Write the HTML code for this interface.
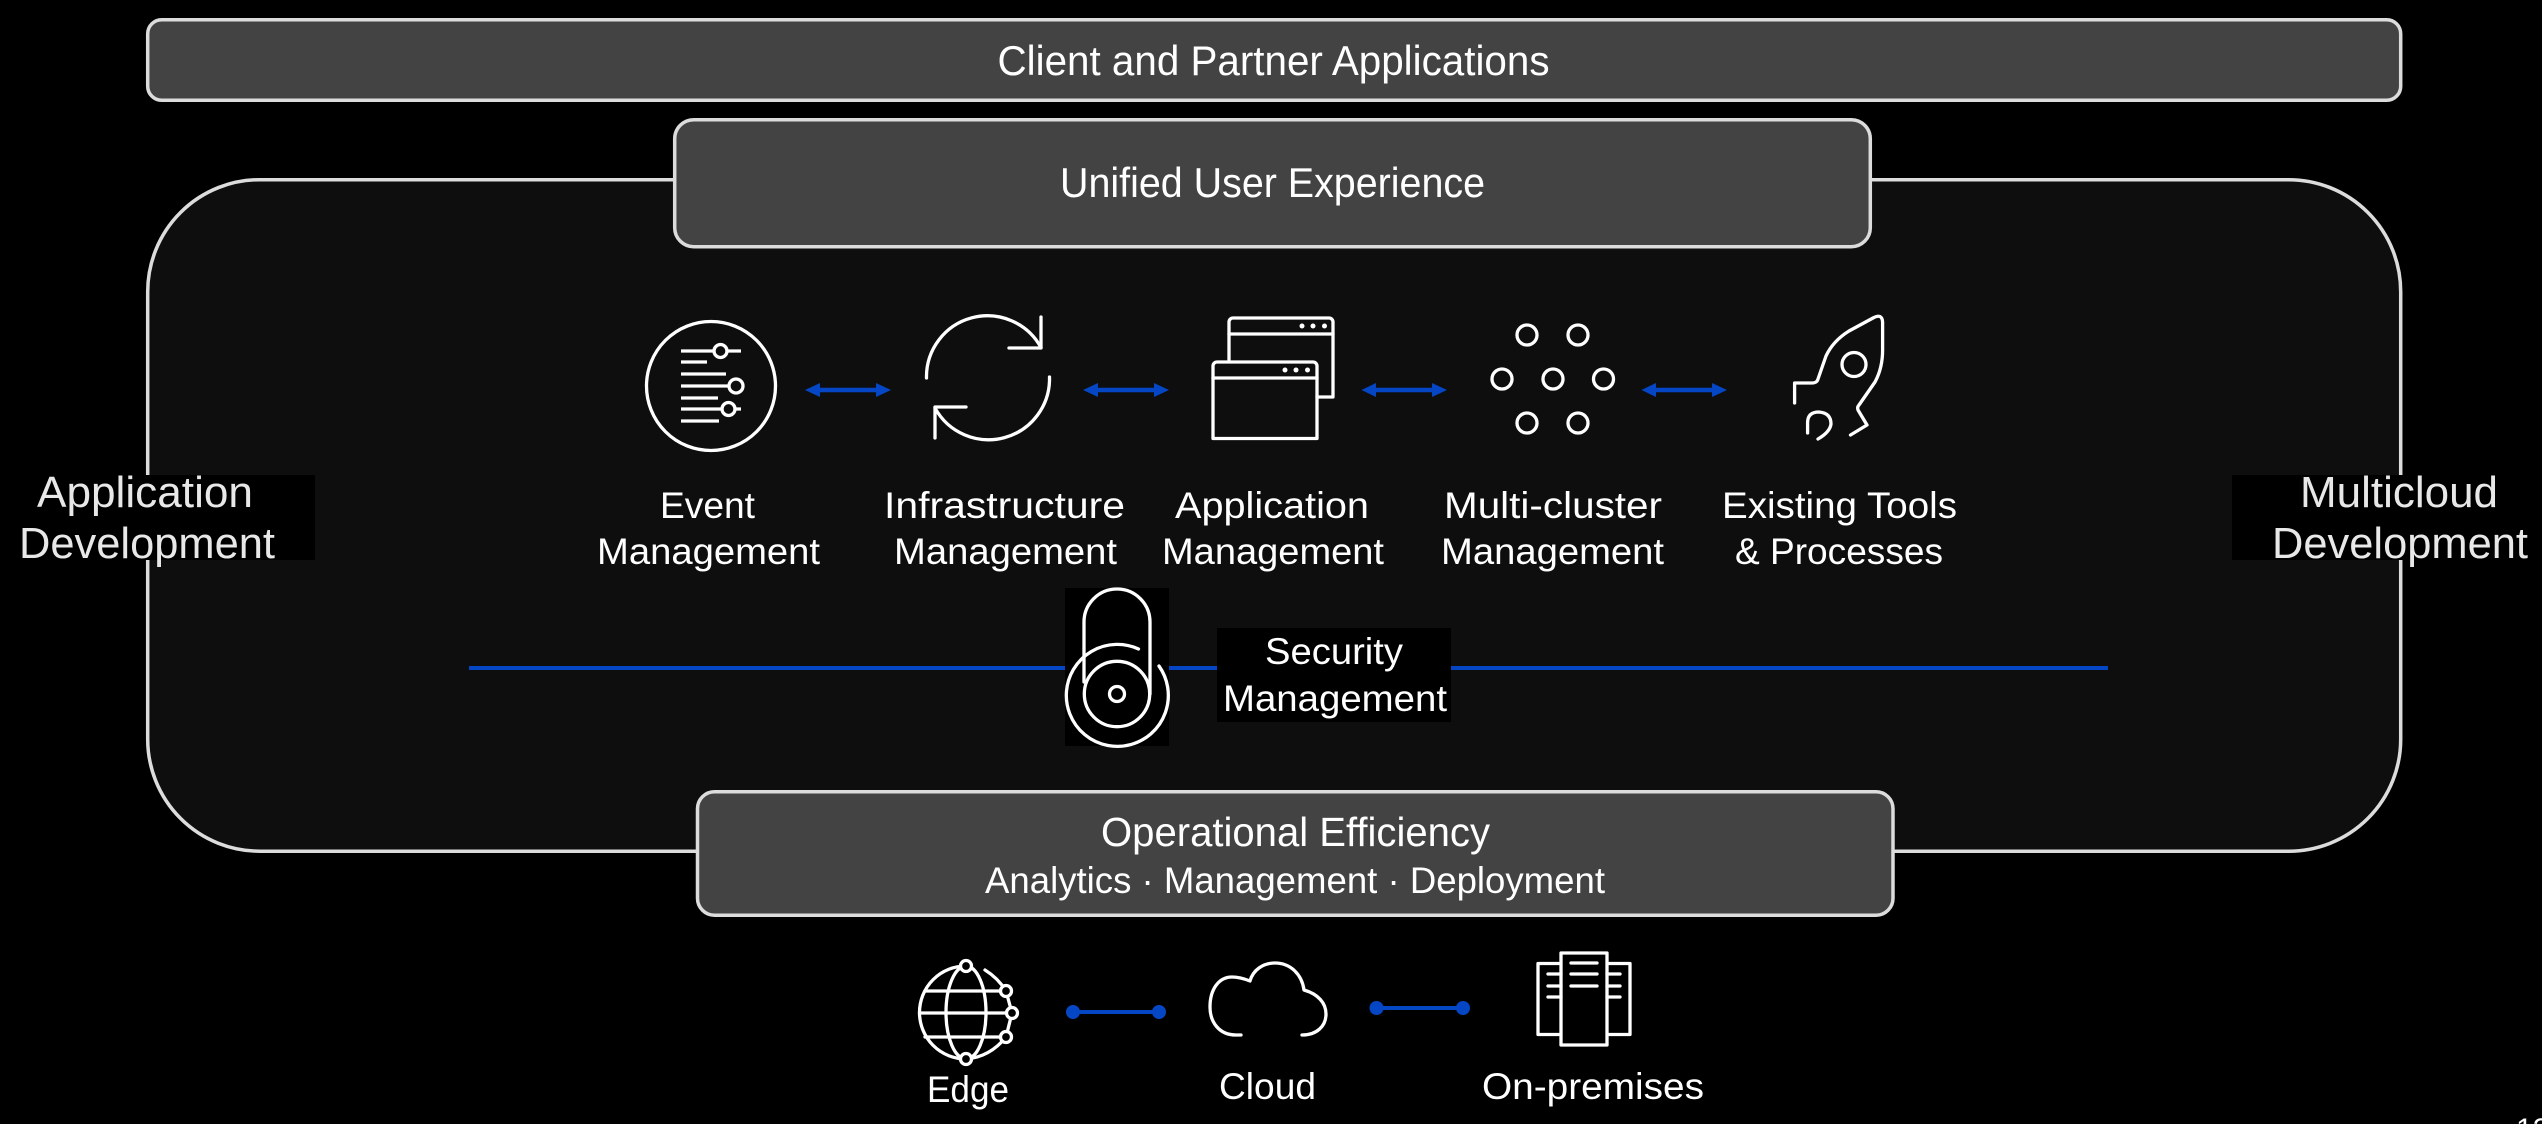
<!DOCTYPE html>
<html>
<head>
<meta charset="utf-8">
<style>
html,body{margin:0;padding:0;background:#000;width:2542px;height:1124px;overflow:hidden}
svg{display:block}
text{font-family:"Liberation Sans",sans-serif;fill:#fff;font-size:37px}
.ic{fill:none;stroke:#fff;stroke-width:3.3;stroke-linecap:round;stroke-linejoin:round}
.bl{stroke:#0546c4;stroke-width:4;fill:none}
.ar{stroke:#0546c4;stroke-width:4.5;fill:none}
.bf{fill:#0546c4;stroke:none}
.box{fill:#434343;stroke:#dcdcdc;stroke-width:3.5}
.side{font-size:44px;fill:#e8e8e8}
</style>
</head>
<body>
<svg width="2542" height="1124" viewBox="0 0 2542 1124" xmlns="http://www.w3.org/2000/svg">
<rect width="2542" height="1124" fill="#000"/>

<!-- main panel -->
<rect x="147.7" y="179.7" width="2253" height="671.500" rx="112" ry="112" fill="#0e0e0e" stroke="#dcdcdc" stroke-width="3.5"/>

<!-- bars -->
<rect class="box" x="147.7" y="19.7" width="2253" height="80.5" rx="14"/>
<rect class="box" x="674.7" y="119.7" width="1195.6" height="127" rx="19"/>
<rect class="box" x="697.5" y="791.7" width="1195.500" height="123.5" rx="17"/>

<text x="997.5" y="75" style="font-size:42px" textLength="552" lengthAdjust="spacingAndGlyphs">Client and Partner Applications</text>
<text x="1060" y="197" style="font-size:42px" textLength="425" lengthAdjust="spacingAndGlyphs">Unified User Experience</text>
<text x="1101" y="846" style="font-size:41px" textLength="389" lengthAdjust="spacingAndGlyphs">Operational Efficiency</text>
<text x="985" y="893" style="font-size:37px" textLength="620" lengthAdjust="spacingAndGlyphs">Analytics · Management · Deployment</text>

<!-- side labels -->
<rect x="0" y="475" width="315" height="85" fill="#000"/>
<rect x="2232" y="475" width="310" height="85" fill="#000"/>
<text class="side" x="37" y="507" textLength="216" lengthAdjust="spacingAndGlyphs">Application</text>
<text class="side" x="19" y="558" textLength="256" lengthAdjust="spacingAndGlyphs">Development</text>
<text class="side" x="2300" y="507" textLength="198" lengthAdjust="spacingAndGlyphs">Multicloud</text>
<text class="side" x="2272" y="558" textLength="256" lengthAdjust="spacingAndGlyphs">Development</text>

<!-- event icon -->
<g class="ic">
<circle cx="711" cy="386" r="64.5"/>
<path stroke-linecap="butt" d="M681 351H714M727 351H741M681 362H707M681 374H726M681 386H729M681 398H718M681 409H722M735 409H741M681 421H719"/>
<circle cx="720.5" cy="351" r="6.5"/>
<circle cx="736" cy="386" r="7"/>
<circle cx="728.5" cy="409" r="6.5"/>
</g>

<!-- refresh icon -->
<g class="ic">
<path d="M926.5 378A61 61 0 0 1 1041 347.5"/>
<path d="M1041 317V348H1009"/>
<path d="M1049.5 377A61 61 0 0 1 935 408"/>
<path d="M935 438V407H966"/>
</g>

<!-- windows icon -->
<g class="ic" stroke-linejoin="miter">
<path d="M1229 361V322a4 4 0 0 1 4-4H1329a4 4 0 0 1 4 4V397H1317"/>
<path d="M1229 334H1333"/>
<path d="M1213 438.5V366a4 4 0 0 1 4-4H1313a4 4 0 0 1 4 4V438.5Z"/>
<path d="M1213 378H1317"/>
</g>
<g fill="#fff">
<circle cx="1285" cy="370" r="2.5"/><circle cx="1296" cy="370" r="2.5"/><circle cx="1307.5" cy="370" r="2.5"/>
<circle cx="1302" cy="326" r="2.5"/><circle cx="1313" cy="326" r="2.5"/><circle cx="1324.5" cy="326" r="2.5"/>
</g>

<!-- cluster icon -->
<g class="ic">
<circle cx="1527" cy="335" r="10"/><circle cx="1578" cy="335" r="10"/>
<circle cx="1502" cy="379" r="10"/><circle cx="1553" cy="379" r="10"/><circle cx="1603.5" cy="379" r="10"/>
<circle cx="1527" cy="423" r="10"/><circle cx="1578" cy="423" r="10"/>
</g>

<!-- rocket icon -->
<g class="ic">
<path d="M1794.6 403V383H1812Q1817 383 1818 379L1826 356Q1833 341 1849 331L1873 318Q1882 313 1882.6 322V350Q1882.6 368 1875 382L1859 405Q1857 407 1858 410L1867 425L1850.5 435"/>
<circle cx="1854" cy="364.5" r="12"/>
<path d="M1807.6 433V422Q1808 412 1819 412Q1831 413 1831 424Q1830 432 1818 439"/>
</g>

<!-- blue double arrows -->
<g>
<path class="ar" d="M815 390H881"/><path class="bf" d="M805 390L820 383V397ZM891 390L876 383V397Z"/>
<path class="ar" d="M1093 390H1159"/><path class="bf" d="M1083 390L1098 383V397ZM1169 390L1154 383V397Z"/>
<path class="ar" d="M1371 390H1437"/><path class="bf" d="M1361.5 390L1376 383V397ZM1447 390L1432 383V397Z"/>
<path class="ar" d="M1651 390H1717"/><path class="bf" d="M1641.5 390L1656 383V397ZM1727 390L1712 383V397Z"/>
</g>

<!-- labels row -->
<text x="660" y="518" textLength="95" lengthAdjust="spacingAndGlyphs">Event</text>
<text x="597" y="564" textLength="223" lengthAdjust="spacingAndGlyphs">Management</text>
<text x="884" y="518" textLength="241" lengthAdjust="spacingAndGlyphs">Infrastructure</text>
<text x="894" y="564" textLength="223" lengthAdjust="spacingAndGlyphs">Management</text>
<text x="1175" y="518" textLength="194" lengthAdjust="spacingAndGlyphs">Application</text>
<text x="1162" y="564" textLength="222" lengthAdjust="spacingAndGlyphs">Management</text>
<text x="1444" y="518" textLength="218" lengthAdjust="spacingAndGlyphs">Multi-cluster</text>
<text x="1441" y="564" textLength="223" lengthAdjust="spacingAndGlyphs">Management</text>
<text x="1722" y="518" textLength="235" lengthAdjust="spacingAndGlyphs">Existing Tools</text>
<text x="1735" y="564" textLength="208" lengthAdjust="spacingAndGlyphs">&amp; Processes</text>

<!-- security -->
<path class="bl" d="M469 668H2108"/>
<rect x="1065" y="588" width="104" height="158" fill="#000"/>
<rect x="1217" y="628" width="234" height="94" fill="#000"/>
<g class="ic">
<path d="M1084 682V622a33 33 0 0 1 66 0V694"/>
<path d="M1138.500 649A51 51 0 1 0 1159 666"/>
<circle cx="1117" cy="694" r="32.7"/>
<circle cx="1117" cy="694" r="7.5"/>
</g>
<text x="1265" y="664" textLength="138" lengthAdjust="spacingAndGlyphs">Security</text>
<text x="1223" y="711" textLength="224" lengthAdjust="spacingAndGlyphs">Management</text>

<!-- globe icon -->
<g class="ic">
<path d="M966 966A46.5 46.5 0 0 0 966 1059Q990 1057 1006 1037"/>
<path d="M985 970Q998 978 1006 991L1012 1013L1006 1037"/>
<ellipse cx="966" cy="1012.500" rx="20" ry="46.5"/>
<path d="M925 991H1000M919.5 1013H1006M925 1037H1000"/>
<g fill="#000">
<circle cx="966" cy="966" r="5.500"/><circle cx="966" cy="1059" r="5.500"/>
<circle cx="1006" cy="991" r="5.500"/><circle cx="1012" cy="1013" r="5.500"/><circle cx="1006" cy="1037" r="5.500"/>
</g>
</g>

<!-- bottom connectors -->
<path class="bl" d="M1073 1012H1159"/>
<circle class="bf" cx="1073" cy="1012" r="7"/><circle class="bf" cx="1159" cy="1012" r="7"/>
<path class="bl" d="M1376.500 1008H1463"/>
<circle class="bf" cx="1376.500" cy="1008" r="7"/><circle class="bf" cx="1463" cy="1008" r="7"/>

<!-- cloud icon -->
<g class="ic">
<path d="M1241 1035H1236C1219 1035 1210 1022 1210 1007C1210 989 1219 977 1232 977C1239 977 1245 979 1250 981C1253 970 1263 963 1275 963C1291 963 1302 975 1304 990C1318 994 1326 1003 1326 1014C1326 1026 1317 1035 1302 1035"/>
</g>

<!-- servers icon -->
<g class="ic" stroke-linejoin="miter" stroke-linecap="butt">
<rect x="1538" y="963.500" width="92" height="71"/>
<rect x="1561" y="953" width="46" height="92" fill="#000"/>
<path d="M1571 963H1597M1571 974H1597M1571 986H1597M1548 974H1561M1548 986H1561M1548 997H1561M1607 974H1620M1607 986H1620M1607 997H1620"/>
</g>

<text x="927" y="1102" textLength="82" lengthAdjust="spacingAndGlyphs">Edge</text>
<text x="1219" y="1099" textLength="97" lengthAdjust="spacingAndGlyphs">Cloud</text>
<text x="1482" y="1099" textLength="222" lengthAdjust="spacingAndGlyphs">On-premises</text>

<text x="2516" y="1139" style="font-size:30px">12</text>
</svg>
</body>
</html>
